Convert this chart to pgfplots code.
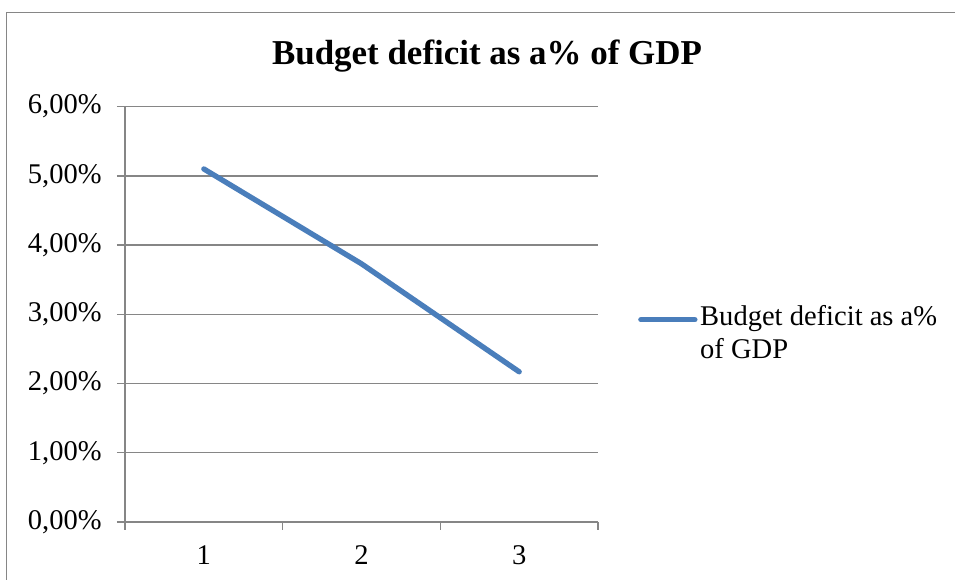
\documentclass[border=0pt]{standalone}
\usepackage{pgfplots}
\pgfplotsset{compat=1.18}
\usepackage{fontspec}
\setmainfont{Liberation Serif}
\definecolor{exblue}{HTML}{4A7EBB}
\definecolor{exgray}{HTML}{868686}
\begin{document}
\begin{tikzpicture}[x=1pt,y=1pt]
\path[use as bounding box] (0,0) rectangle (716.25,435);
\draw[exgray, line width=1pt] (5,-2) -- (5,425.5) -- (720,425.5);
\node[anchor=base, font=\fontsize{26.2}{31}\selectfont\bfseries] at (365.25,386.25) {Budget deficit as a\% of GDP};
\begin{axis}[
  at={(93.75pt,43.5pt)}, anchor=south west,
  scale only axis, width=354.75pt, height=311.5pt,
  xmin=0.5, xmax=3.5, ymin=0, ymax=6,
  axis x line*=bottom, axis y line*=left,
  axis line style={exgray, line width=1pt, -},
  xtick={0.5,1.5,2.5,3.5}, xticklabels={},
  extra x ticks={1,2,3}, extra x tick labels={1,2,3},
  extra x tick style={major tick length=0pt, xticklabel style={yshift=-14pt}},
  ytick={0,1,2,3,4,5,6},
  yticklabels={{0,00\%},{1,00\%},{2,00\%},{3,00\%},{4,00\%},{5,00\%},{6,00\%}},
  yticklabel style={xshift=-8pt},
  ymajorgrids, grid style={exgray, line width=1pt},
  tick align=outside, major tick length=6pt,
  tick style={exgray, line width=1pt},
  /pgf/number format/assume math mode=true,
  every tick label/.append style={font=\fontsize{21.4}{25}\selectfont},
  legend style={at={(1.085,0.455)}, anchor=west, draw=none, fill=none, inner sep=0pt, outer sep=0pt,
    font=\fontsize{21.4}{25}\selectfont, cells={align=left}},
  legend cell align=left,
  legend image code/.code={\draw[#1, line cap=round] (0pt,10pt) -- (40.5pt,10pt);},
  clip=false,
]
\addplot[exblue, line width=4pt, line cap=round, line join=round] coordinates {(1,5.10) (2,3.73) (3,2.17)};
\addlegendentry{Budget deficit as a\%\\of GDP}
\end{axis}
\end{tikzpicture}
\end{document}
